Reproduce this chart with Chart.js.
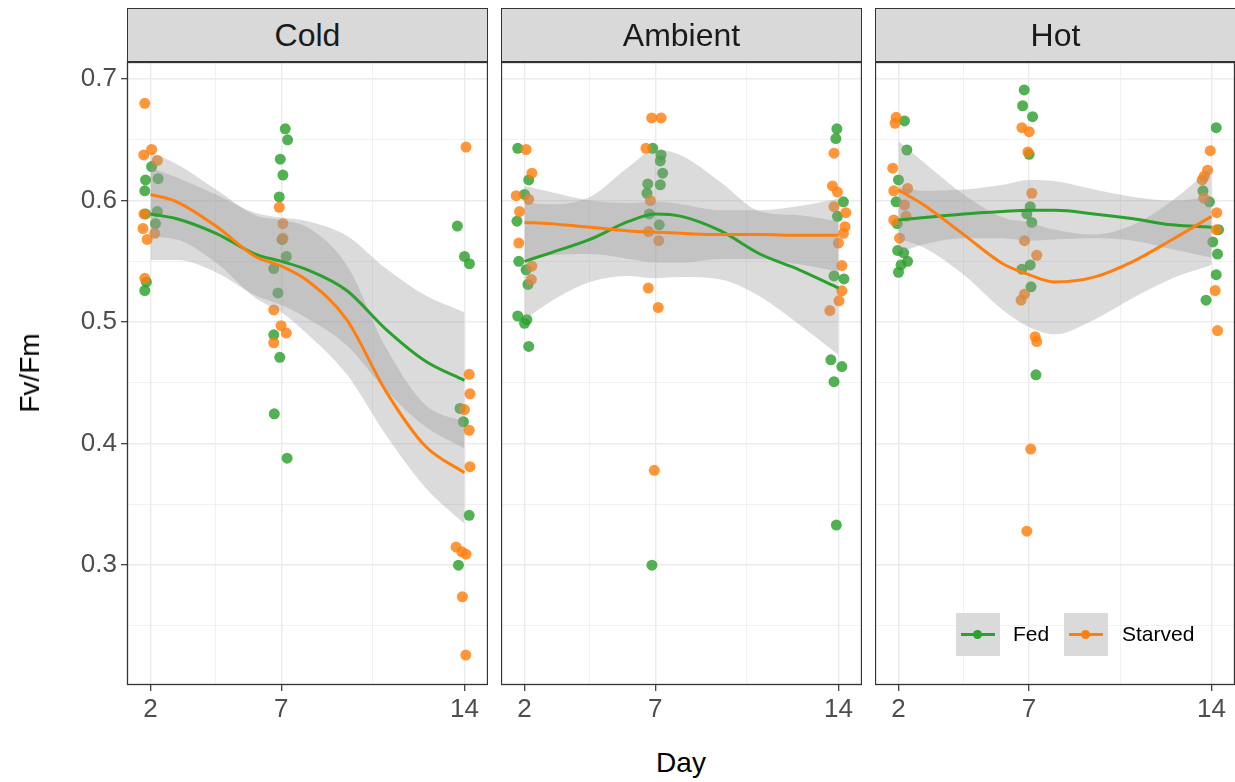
<!DOCTYPE html>
<html><head><meta charset="utf-8">
<script src="https://cdn.jsdelivr.net/npm/chart.js@4.4.0/dist/chart.umd.min.js"></script>
<style>
body{margin:0;background:#fff;width:1235px;height:782px;overflow:hidden;position:relative;font-family:"Liberation Sans",Arial,sans-serif;}
canvas{position:absolute;}
.strip{position:absolute;top:8px;height:54px;background:#d9d9d9;border:1.3px solid #333;box-sizing:border-box;font-size:32px;color:#1a1a1a;display:flex;align-items:center;justify-content:center;}
.title{position:absolute;font-size:28px;color:#000;white-space:nowrap;}
.key{position:absolute;top:613px;width:44px;height:43px;background:#dadada;}
.key .bar{position:absolute;left:5px;right:5px;top:20px;height:3px;}
.key .dot{position:absolute;left:17px;top:17px;width:9px;height:9px;border-radius:50%;}
.ltxt{position:absolute;top:622px;font-size:21px;color:#000;}
</style>
</head><body>
<canvas id="c0" width="488" height="690" style="left:0;top:40px"></canvas>
<canvas id="c1" width="361" height="690" style="left:501px;top:40px"></canvas>
<canvas id="c2" width="360" height="690" style="left:875px;top:40px"></canvas>
<div class="strip" id="s0" style="left:127px;width:361px"></div>
<div class="strip" id="s1" style="left:501px;width:361px"></div>
<div class="strip" id="s2" style="left:875px;width:361px"></div>
<div class="title" style="left:30px;top:373px;transform:translate(-50%,-50%) rotate(-90deg)">Fv/Fm</div>
<div class="title" style="left:681px;top:763px;transform:translate(-50%,-50%)">Day</div>
<div class="key" style="left:956px"><div class="bar" style="background:#2ca02c"></div><div class="dot" style="background:#2ca02c"></div></div>
<div class="ltxt" id="l0" style="left:1013px"></div>
<div class="key" style="left:1064px"><div class="bar" style="background:#ff7f0e"></div><div class="dot" style="background:#ff7f0e"></div></div>
<div class="ltxt" id="l1" style="left:1122px"></div>
<script>
// ---- data ----
const panelNames = ['Cold', 'Ambient', 'Hot'];
const seriesNames = ['Fed', 'Starved'];
const dayTicks = [2, 7, 14];
const dayMinorTicks = [4.5, 10.5];
const fvfmTicks = [0.3, 0.4, 0.5, 0.6, 0.7];
const fvfmMinorTicks = [0.25, 0.35, 0.45, 0.55, 0.65];

// jittered observations: [day, Fv/Fm]
const coldFed = [[2.04,0.628],[1.81,0.617],[2.29,0.618],[1.78,0.608],[1.81,0.589],[2.26,0.591],[2.19,0.581],[1.84,0.533],[1.78,0.526],
  [7.15,0.659],[7.24,0.650],[6.96,0.634],[7.06,0.621],[6.92,0.603],[7.03,0.568],[7.19,0.554],[6.71,0.544],[6.87,0.524],[6.71,0.4895],[6.94,0.471],[6.73,0.4245],[7.22,0.388],
  [13.73,0.579],[14.0,0.554],[14.19,0.548],[13.83,0.429],[13.96,0.418],[14.18,0.341],[13.77,0.300]];
const coldStarved = [[1.78,0.680],[2.04,0.642],[1.74,0.6375],[2.26,0.633],[1.75,0.589],[1.71,0.577],[1.87,0.568],[2.16,0.573],[1.78,0.536],
  [6.92,0.5945],[7.06,0.581],[7.06,0.569],[6.71,0.510],[6.99,0.497],[7.19,0.491],[6.71,0.483],
  [14.06,0.644],[14.18,0.457],[14.21,0.441],[14.0,0.428],[14.18,0.411],[14.21,0.381],[13.68,0.315],[13.9,0.311],[14.06,0.309],[13.92,0.274],[14.05,0.226]];
const ambientFed = [[1.74,0.643],[2.16,0.617],[2.0,0.605],[1.71,0.583],[1.78,0.550],[2.06,0.543],[2.13,0.531],[1.74,0.505],[2.0,0.499],[2.09,0.502],[2.16,0.480],
  [6.9,0.643],[7.22,0.6375],[7.19,0.6326],[7.28,0.6225],[7.19,0.613],[6.71,0.6137],[6.68,0.606],[6.77,0.589],[7.15,0.580],[6.87,0.300],
  [13.94,0.659],[13.9,0.651],[14.19,0.599],[13.96,0.587],[13.83,0.538],[14.21,0.5355],[13.71,0.469],[14.13,0.4634],[13.83,0.451],[13.92,0.333]];
const ambientStarved = [[2.06,0.642],[2.28,0.6225],[1.68,0.604],[2.16,0.601],[1.81,0.591],[1.78,0.565],[2.28,0.546],[2.26,0.535],
  [6.86,0.668],[7.22,0.668],[6.64,0.643],[6.81,0.600],[6.74,0.5745],[7.13,0.567],[6.73,0.528],[7.11,0.512],[6.96,0.378],
  [13.83,0.639],[13.77,0.612],[13.96,0.607],[13.83,0.595],[14.28,0.590],[14.25,0.5785],[14.19,0.573],[14.0,0.565],[14.13,0.5465],[14.13,0.5257],[14.02,0.5175],[13.67,0.5095]];
const hotFed = [[2.23,0.6655],[2.32,0.6416],[2.0,0.617],[1.91,0.599],[1.95,0.581],[1.97,0.559],[2.2,0.557],[2.35,0.550],[2.1,0.547],[2.0,0.541],
  [6.82,0.691],[6.76,0.678],[7.14,0.669],[7.01,0.638],[7.05,0.595],[6.92,0.589],[7.11,0.582],[7.05,0.547],[6.73,0.5435],[7.08,0.529],[7.27,0.4566],
  [14.18,0.660],[13.67,0.608],[13.92,0.599],[14.27,0.576],[14.05,0.566],[14.23,0.556],[14.18,0.539],[13.79,0.518]];
const hotStarved = [[1.91,0.6685],[1.87,0.6636],[1.78,0.6266],[1.82,0.608],[2.35,0.610],[2.23,0.5964],[1.82,0.584],[2.29,0.587],[2.04,0.569],
  [6.73,0.660],[7.01,0.6567],[6.96,0.640],[7.11,0.606],[6.83,0.567],[7.3,0.555],[6.83,0.523],[6.7,0.518],[7.24,0.488],[7.3,0.484],[7.07,0.3955],[6.92,0.328],
  [13.95,0.641],[13.85,0.625],[13.72,0.620],[13.64,0.617],[13.7,0.602],[14.2,0.590],[14.18,0.576],[14.14,0.526],[14.23,0.493]];

// smoothed fits and their half-widths (confidence band), read at these days
const fitDays = [2, 3, 4.5, 6, 7, 8, 9.5, 11, 12.5, 14];
const coldFedFit = [0.589, 0.585, 0.573, 0.556, 0.550, 0.543, 0.526, 0.494, 0.468, 0.452];
const coldFedSE = [0.038, 0.034, 0.032, 0.034, 0.036, 0.040, 0.045, 0.050, 0.054, 0.056];
const coldStarvedFit = [0.605, 0.599, 0.579, 0.554, 0.546, 0.534, 0.502, 0.443, 0.398, 0.376];
const coldStarvedSE = [0.035, 0.031, 0.030, 0.034, 0.038, 0.044, 0.045, 0.036, 0.034, 0.042];
const ambientFedFit = [0.550, 0.557, 0.568, 0.583, 0.589, 0.587, 0.575, 0.556, 0.543, 0.528];
const ambientFedSE = [0.048, 0.040, 0.035, 0.045, 0.053, 0.050, 0.040, 0.035, 0.045, 0.055];
const ambientStarvedFit = [0.582, 0.581, 0.578, 0.575, 0.574, 0.573, 0.572, 0.572, 0.5715, 0.5715];
const ambientStarvedSE = [0.030, 0.026, 0.022, 0.023, 0.025, 0.024, 0.020, 0.020, 0.024, 0.030];
const hotFedFit = [0.584, 0.586, 0.589, 0.591, 0.592, 0.592, 0.589, 0.585, 0.580, 0.578];
const hotFedSE = [0.027, 0.022, 0.020, 0.022, 0.025, 0.024, 0.020, 0.018, 0.020, 0.025];
const hotStarvedFit = [0.6087, 0.596, 0.572, 0.548, 0.539, 0.533, 0.537, 0.550, 0.568, 0.587];
const hotStarvedSE = [0.040, 0.035, 0.033, 0.038, 0.043, 0.043, 0.035, 0.030, 0.032, 0.040];

// ---- styling ----
const FED = '#2ca02c', STARVED = '#ff7f0e';
const FED_PT = 'rgba(44,160,44,0.82)', STARVED_PT = 'rgba(255,127,14,0.82)';
const BAND = 'rgba(153,153,153,0.35)';
Chart.defaults.font.family = '"Liberation Sans", Arial, sans-serif';

panelNames.forEach((n, i) => document.getElementById('s' + i).textContent = n);
seriesNames.forEach((n, i) => document.getElementById('l' + i).textContent = n);

const pts = arr => arr.map(p => ({x: p[0], y: p[1]}));
const curve = (fit, off) => fitDays.map((d, i) => ({x: d, y: fit[i] + off[i]}));
const zeros = fitDays.map(() => 0);
const neg = a => a.map(v => -v);

const isMajorY = v => fvfmTicks.some(t => Math.abs(t - v) < 1e-6);
const isMajorX = v => dayTicks.some(t => Math.abs(t - v) < 1e-6);

const borderPlugin = {
  id: 'panelBorder',
  afterDraw(chart) {
    const a = chart.chartArea, ctx = chart.ctx;
    ctx.save(); ctx.strokeStyle = '#333'; ctx.lineWidth = 1.3;
    ctx.strokeRect(a.left + 0.5, a.top + 0.5, a.right - a.left - 1, a.bottom - a.top - 1);
    ctx.restore();
  }
};

function band(fit, se, fill, order) {
  return [
    {type: 'line', data: curve(fit, se), fill: fill, backgroundColor: BAND, borderColor: 'rgba(0,0,0,0)', borderWidth: 0, pointRadius: 0, cubicInterpolationMode: 'monotone', order: order},
    {type: 'line', data: curve(fit, neg(se)), fill: false, borderColor: 'rgba(0,0,0,0)', borderWidth: 0, pointRadius: 0, cubicInterpolationMode: 'monotone', order: order}
  ];
}

function makePanel(id, fed, starved, fFit, fSE, sFit, sSE, showY) {
  const datasets = [
    {type: 'scatter', data: pts(fed), backgroundColor: FED_PT, borderWidth: 0, pointRadius: 5.5, order: 10},
    {type: 'scatter', data: pts(starved), backgroundColor: STARVED_PT, borderWidth: 0, pointRadius: 5.5, order: 9},
    ...band(fFit, fSE, '+1', 5),
    ...band(sFit, sSE, '+1', 4),
    {type: 'line', data: curve(fFit, zeros), borderColor: FED, borderWidth: 3, pointRadius: 0, fill: false, cubicInterpolationMode: 'monotone', order: 2},
    {type: 'line', data: curve(sFit, zeros), borderColor: STARVED, borderWidth: 3, pointRadius: 0, fill: false, cubicInterpolationMode: 'monotone', order: 1}
  ];
  return new Chart(document.getElementById(id), {
    type: 'scatter',
    data: {datasets},
    options: {
      responsive: false, animation: false, devicePixelRatio: 1,
      layout: {autoPadding: false, padding: {top: 22, left: 0, right: 0, bottom: 0}},
      plugins: {legend: {display: false}, tooltip: {enabled: false}},
      scales: {
        x: {
          type: 'linear', min: 1.1, max: 14.9,
          afterBuildTicks: s => { s.ticks = dayTicks.concat(dayMinorTicks).sort((a, b) => a - b).map(v => ({value: v})); },
          afterFit: s => { s.height = 45; },
          ticks: {autoSkip: false, maxRotation: 0, padding: 3, color: '#4d4d4d', font: {size: 26},
                  callback: v => isMajorX(v) ? String(v) : ''},
          grid: {color: '#ebebeb', lineWidth: c => isMajorX(c.tick.value) ? 1.4 : 0.7,
                 tickLength: 6, tickWidth: 1.2, tickColor: c => isMajorX(c.tick.value) ? '#333' : 'rgba(0,0,0,0)'},
          border: {display: false}
        },
        y: {
          min: 0.2014, max: 0.714,
          afterBuildTicks: s => { s.ticks = fvfmTicks.concat(fvfmMinorTicks).sort((a, b) => a - b).map(v => ({value: v})); },
          afterFit: s => { s.width = showY ? 127 : 0; },
          ticks: {display: showY, autoSkip: false, padding: 4, color: '#4d4d4d', font: {size: 26},
                  callback: v => isMajorY(v) ? v.toFixed(1) : ''},
          grid: {color: '#ebebeb', lineWidth: c => isMajorY(c.tick.value) ? 1.4 : 0.7,
                 drawTicks: showY, tickLength: 6, tickWidth: 1.2, tickColor: c => isMajorY(c.tick.value) ? '#333' : 'rgba(0,0,0,0)'},
          border: {display: false}
        }
      }
    },
    plugins: [borderPlugin]
  });
}

makePanel('c0', coldFed, coldStarved, coldFedFit, coldFedSE, coldStarvedFit, coldStarvedSE, true);
makePanel('c1', ambientFed, ambientStarved, ambientFedFit, ambientFedSE, ambientStarvedFit, ambientStarvedSE, false);
makePanel('c2', hotFed, hotStarved, hotFedFit, hotFedSE, hotStarvedFit, hotStarvedSE, false);
</script>
</body></html>
